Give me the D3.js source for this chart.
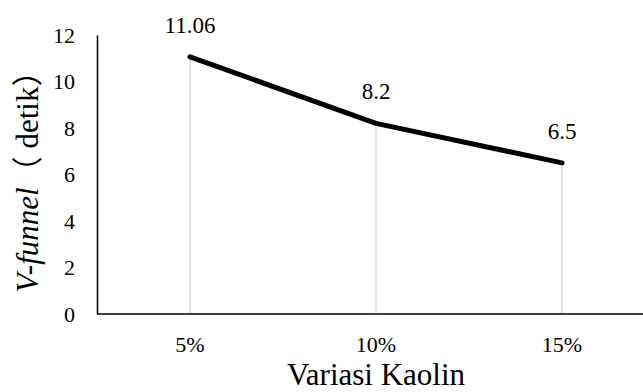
<!DOCTYPE html>
<html>
<head>
<meta charset="utf-8">
<script src="https://cdn.jsdelivr.net/npm/d3@7"></script>
<style>
  html, body { margin: 0; padding: 0; background: #fff; }
  svg { display: block; }
  svg text { font-family: "Liberation Serif", "Times New Roman", serif; fill: #000; }
  svg text .cjk { font-family: "Noto Sans CJK SC", "Noto Sans CJK JP", sans-serif; }
</style>
</head>
<body>
<svg id="chart" width="643" height="392"></svg>
<script>
const categories = ["5%", "10%", "15%"];
const values = [11.06, 8.2, 6.5];
const valueLabels = ["11.06", "8.2", "6.5"];
const yTicks = [0, 2, 4, 6, 8, 10, 12];

const svg = d3.select("#chart");
const axisX = 97;

const x = d3.scalePoint().domain(categories).range([190, 562]);
const y = d3.scaleLinear().domain([0, 12]).range([314, 35]);

// drop lines from each point to the axis
svg.append("g").selectAll("line")
  .data(values)
  .join("line")
  .attr("x1", (d, i) => x(categories[i]))
  .attr("x2", (d, i) => x(categories[i]))
  .attr("y1", d => y(d))
  .attr("y2", y(0))
  .attr("stroke", "#d9d9d9")
  .attr("stroke-width", 1.3);

// y axis
const yAxis = svg.append("g")
  .attr("transform", `translate(${axisX},0)`)
  .call(d3.axisLeft(y).tickValues(yTicks).tickSize(0).tickPadding(22).tickFormat(d3.format("d")));
yAxis.attr("font-family", null).attr("font-size", null);
yAxis.select(".domain").attr("stroke", "#000").attr("stroke-width", 1.5);
yAxis.selectAll("text").style("font-size", "22px");

// x axis
svg.append("line")
  .attr("x1", axisX).attr("x2", 643)
  .attr("y1", y(0)).attr("y2", y(0))
  .attr("stroke", "#000").attr("stroke-width", 1.5);

svg.append("g").selectAll("text")
  .data(categories)
  .join("text")
  .attr("x", d => x(d))
  .attr("y", 352)
  .attr("text-anchor", "middle")
  .style("font-size", "22px")
  .text(d => d);

// series line
const line = d3.line()
  .x((d, i) => x(categories[i]))
  .y(d => y(d));
svg.append("path")
  .datum(values)
  .attr("d", line)
  .attr("fill", "none")
  .attr("stroke", "#000")
  .attr("stroke-width", 5)
  .attr("stroke-linecap", "round")
  .attr("stroke-linejoin", "round");

// value labels
svg.append("g").selectAll("text")
  .data(values)
  .join("text")
  .attr("x", (d, i) => x(categories[i]))
  .attr("y", d => y(d) - 24)
  .attr("text-anchor", "middle")
  .style("font-size", "23px")
  .text((d, i) => valueLabels[i]);

// axis titles
svg.append("text")
  .attr("x", x("10%"))
  .attr("y", 385)
  .attr("text-anchor", "middle")
  .style("font-size", "31px")
  .text("Variasi Kaolin");

const yTitle = svg.append("text")
  .attr("transform", "translate(38,174) rotate(-90)")
  .attr("text-anchor", "middle")
  .attr("xml:space", "preserve")
  .style("font-size", "31px")
  .style("white-space", "pre");
yTitle.append("tspan").attr("font-style", "italic").text("V-funnel");
yTitle.append("tspan").attr("class", "cjk").text("\uFF08");
yTitle.append("tspan").text(" detik");
yTitle.append("tspan").attr("class", "cjk").text("\uFF09");
</script>
</body>
</html>
